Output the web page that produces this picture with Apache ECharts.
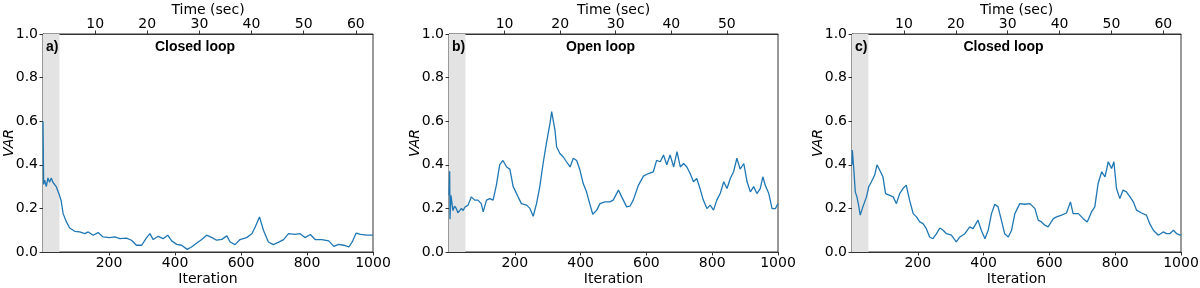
<!DOCTYPE html>
<html>
<head>
<meta charset="utf-8">
<script src="https://cdn.jsdelivr.net/npm/echarts@6/dist/echarts.min.js"></script>
<style>
html,body{margin:0;padding:0;background:#fff;}
#c{width:1200px;height:288px;}
</style>
</head>
<body>
<div id="c"></div>
<script>
// ---- Data (iteration, VAR) ----
const iterA = [0,2,5,10,15,20,25,30,35,40,45,50,55,61,71,81,96,111,127,137,152,167,182,202,218,233,253,268,283,299,314,324,334,349,364,378,390,405,420,437,450,466,481,496,512,526,542,557,567,582,597,617,633,643,656,668,683,698,713,729,744,764,779,794,810,825,845,866,881,896,911,927,937,949,962,982,1000];
const varA  = [0.60,0.31,0.33,0.30,0.34,0.32,0.34,0.32,0.32,0.30,0.28,0.26,0.235,0.176,0.138,0.11,0.095,0.092,0.084,0.092,0.077,0.089,0.069,0.066,0.069,0.061,0.064,0.054,0.031,0.031,0.066,0.084,0.057,0.072,0.061,0.077,0.051,0.035,0.031,0.012,0.023,0.041,0.057,0.077,0.066,0.054,0.058,0.074,0.046,0.034,0.057,0.066,0.084,0.115,0.161,0.10,0.046,0.034,0.044,0.057,0.084,0.081,0.084,0.066,0.08,0.057,0.057,0.051,0.026,0.035,0.031,0.023,0.046,0.087,0.081,0.077,0.077];

const iterB = [0,2,3,6,12,17,22,27,32,38,43,48,58,68,78,88,98,104,114,124,134,144,154,164,175,185,195,200,210,220,236,246,256,266,276,286,296,307,312,317,322,327,337,347,357,368,378,388,398,408,418,429,437,449,459,474,489,499,515,525,540,550,560,576,591,606,621,631,642,652,662,672,683,693,703,713,723,733,743,753,763,773,784,794,804,814,825,835,845,855,865,875,885,896,906,916,926,936,946,954,961,972,982,992,1000];
const varB  = [0.26,0.37,0.15,0.26,0.19,0.21,0.20,0.18,0.175,0.20,0.19,0.205,0.215,0.253,0.238,0.238,0.222,0.184,0.238,0.245,0.238,0.307,0.40,0.42,0.39,0.38,0.30,0.285,0.253,0.222,0.215,0.20,0.164,0.222,0.30,0.406,0.498,0.59,0.644,0.652,0.56,0.483,0.452,0.437,0.414,0.39,0.43,0.42,0.376,0.314,0.276,0.215,0.173,0.192,0.222,0.23,0.23,0.238,0.284,0.253,0.207,0.21,0.238,0.307,0.348,0.36,0.368,0.42,0.414,0.445,0.40,0.445,0.39,0.46,0.39,0.406,0.39,0.36,0.322,0.337,0.291,0.238,0.199,0.215,0.192,0.238,0.271,0.322,0.291,0.337,0.368,0.43,0.38,0.406,0.322,0.276,0.30,0.268,0.291,0.345,0.307,0.268,0.199,0.199,0.222];

const iterC = [0,1,5,10,15,20,25,33,44,51,59,69,76,84,94,102,115,125,135,145,155,165,175,186,196,206,216,226,236,246,257,267,277,287,302,317,328,343,358,368,383,393,404,414,424,434,444,454,464,475,485,495,510,525,541,556,566,576,586,596,612,622,637,652,664,672,688,703,715,728,738,748,759,769,779,789,796,804,814,824,834,845,855,865,880,895,905,916,931,946,956,966,977,987,997,1000];
const varC  = [0.40,0.468,0.39,0.276,0.253,0.215,0.169,0.207,0.253,0.30,0.322,0.353,0.40,0.376,0.345,0.268,0.26,0.253,0.222,0.268,0.291,0.307,0.238,0.176,0.161,0.138,0.13,0.107,0.069,0.061,0.084,0.11,0.10,0.084,0.077,0.046,0.069,0.084,0.115,0.107,0.146,0.10,0.061,0.10,0.176,0.219,0.207,0.146,0.084,0.069,0.10,0.176,0.222,0.219,0.222,0.199,0.146,0.138,0.123,0.115,0.153,0.161,0.169,0.179,0.23,0.176,0.176,0.153,0.138,0.184,0.207,0.314,0.368,0.345,0.414,0.383,0.414,0.291,0.245,0.284,0.276,0.253,0.23,0.192,0.179,0.169,0.13,0.10,0.077,0.092,0.084,0.084,0.10,0.084,0.077,0.08];

const panelTags   = ['a)', 'b)', 'c)'];
const panelTitles = ['Closed loop', 'Open loop', 'Closed loop'];
const timeMax     = [63.3, 59.2, 63.4];   // seconds spanned by 1000 iterations
const shadeEnd    = 50;                    // shaded start-up region (iterations)
const yTicks      = [0, 0.2, 0.4, 0.6, 0.8, 1.0];

// ---- Layout ----
const gridsPx = [{left:43, width:330}, {left:449, width:329}, {left:852, width:329}];
const gTop = 34, gBottom = 36;
const FONT = 'DejaVu Sans';
const FS = 14;
const AX = '#333';

const chart = echarts.init(document.getElementById('c'), null, {renderer:'canvas'});
const seriesData = [[iterA,varA],[iterB,varB],[iterC,varC]];

const grid = [], xAxis = [], yAxis = [], series = [], graphic = [];
gridsPx.forEach((g, i) => {
  grid.push({left:g.left, width:g.width, top:gTop, bottom:gBottom, show:true, borderColor:AX, borderWidth:1,
    containLabel:false, outerBoundsMode:'none'});
  xAxis.push({
    type:'value', gridIndex:i, min:0, max:1000, interval:200, position:'bottom',
    name:'Iteration', nameLocation:'middle', nameGap:20, nameMoveOverlap:false,
    nameTextStyle:{fontFamily:FONT, fontSize:FS, color:'#000'},
    axisLine:{show:true, lineStyle:{color:AX, width:1}},
    axisTick:{show:true, inside:false, length:3.5, lineStyle:{color:AX}},
    axisLabel:{fontFamily:FONT, fontSize:FS, color:'#000', margin:4, showMinLabel:false,
      formatter:v => v === 0 ? '' : String(v)},
    splitLine:{show:false}
  });
  xAxis.push({
    type:'value', gridIndex:i, min:0, max:timeMax[i], interval:10, position:'top',
    name:'Time (sec)', nameLocation:'middle', nameGap:17, nameMoveOverlap:false,
    nameTextStyle:{fontFamily:FONT, fontSize:FS, color:'#000'},
    axisLine:{show:true, lineStyle:{color:AX, width:1}},
    axisTick:{show:true, inside:false, length:3.5, lineStyle:{color:AX}},
    axisLabel:{fontFamily:FONT, fontSize:FS, color:'#000', margin:3, showMinLabel:false, showMaxLabel:false,
      formatter:v => (v === 0 || Math.abs(v % 10) > 1e-6) ? '' : String(v)},
    splitLine:{show:false}
  });
  yAxis.push({
    type:'value', gridIndex:i, min:yTicks[0], max:yTicks[yTicks.length-1], interval:0.2,
    name:'VAR', nameLocation:'middle', nameGap:27, nameRotate:90, nameMoveOverlap:false,
    nameTextStyle:{fontFamily:FONT, fontSize:FS, color:'#000', fontStyle:'italic'},
    axisLine:{show:true, lineStyle:{color:AX, width:1}},
    axisTick:{show:true, inside:false, length:3.5, lineStyle:{color:AX}},
    axisLabel:{fontFamily:FONT, fontSize:FS, color:'#000', margin:5, formatter:v => v.toFixed(1)},
    splitLine:{show:false}
  });
  const [xs, ys] = seriesData[i];
  series.push({
    type:'line', xAxisIndex:2*i, yAxisIndex:i,
    data: xs.map((x,k) => [x, ys[k]]),
    showSymbol:false, symbol:'none', smooth:false,
    lineStyle:{color:'#1f77b4', width:1.3},
    markArea:{silent:true, itemStyle:{color:'#e3e3e3'}, data:[[{xAxis:0},{xAxis:shadeEnd}]]},
    z:3
  });
  graphic.push({type:'text', left:g.left + 3, top:gTop + 6,
    style:{text:panelTags[i], font:'bold 14px "Liberation Sans"', fill:'#000'}, z:10});
  graphic.push({type:'text', x:g.left + g.width/2 - 13, y:gTop + 13,
    style:{text:panelTitles[i], font:'bold 14px "Liberation Sans"', fill:'#000', textAlign:'center', textVerticalAlign:'middle'}, z:10});
});

chart.setOption({animation:false, backgroundColor:'#fff', grid, xAxis, yAxis, series, graphic});
</script>
</body>
</html>
